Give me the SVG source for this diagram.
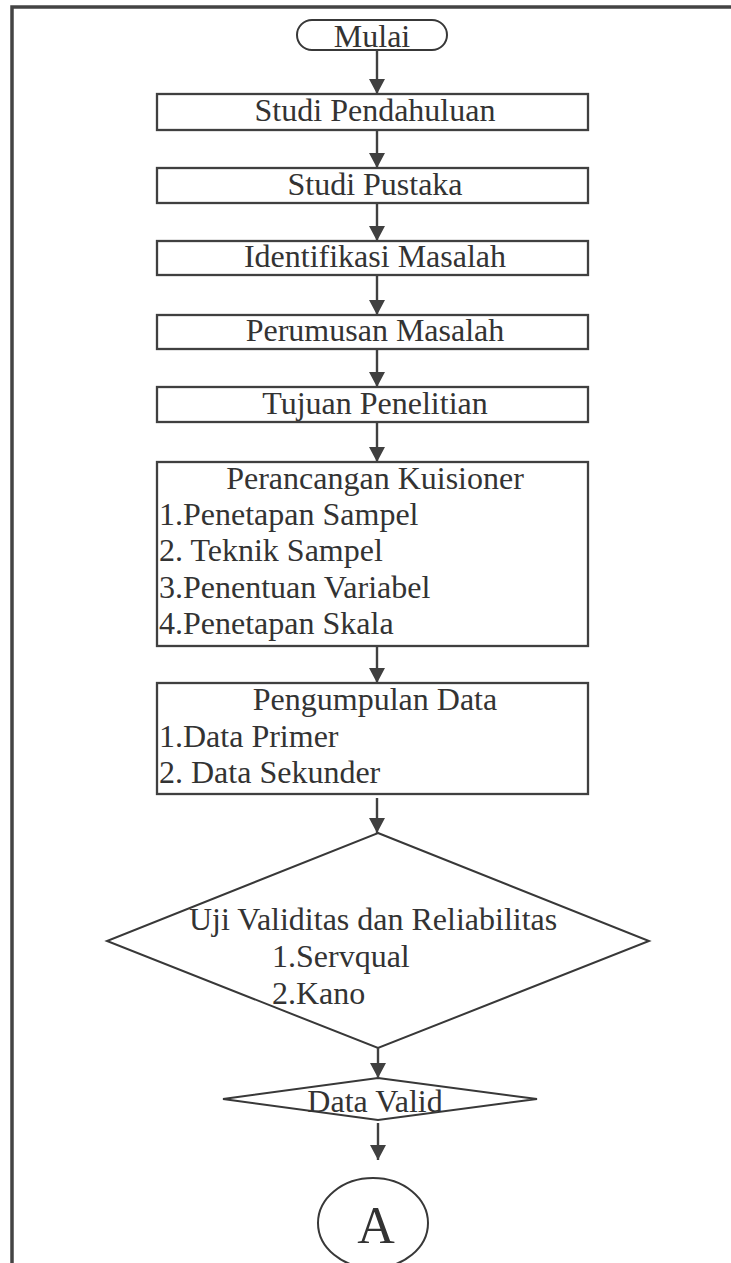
<svg xmlns="http://www.w3.org/2000/svg" width="731" height="1263" viewBox="0 0 731 1263">
<defs>
<style>
.t{font-family:"Liberation Serif","Times New Roman",serif;font-size:32px;fill:#333}
.c{text-anchor:middle}
.box{fill:none;stroke:#404040;stroke-width:2.3}
.sh{fill:none;stroke:#383838;stroke-width:2}
.ln{stroke:#404040;stroke-width:2.4;fill:none}
</style>
<marker id="ah" markerUnits="userSpaceOnUse" viewBox="0 0 15 16" refX="15" refY="8" markerWidth="15" markerHeight="16" orient="auto">
<path d="M0,0 L15,8 L0,16 z" fill="#404040"/>
</marker>
</defs>
<rect width="731" height="1263" fill="#fff"/>
<rect x="12" y="7" width="760" height="1320" fill="none" stroke="#444" stroke-width="3.5"/>
<g id="mulai"><rect class="sh" x="297" y="20" width="150" height="30" rx="15"/><text class="t c" x="372" y="47">Mulai</text></g>
<g id="studi-pendahuluan"><rect class="box" x="157" y="94" width="431" height="36"/><text class="t c" x="375" y="121">Studi Pendahuluan</text></g>
<g id="studi-pustaka"><rect class="box" x="157" y="168" width="431" height="35"/><text class="t c" x="375" y="195">Studi Pustaka</text></g>
<g id="identifikasi"><rect class="box" x="157" y="241" width="431" height="34"/><text class="t c" x="375" y="267">Identifikasi Masalah</text></g>
<g id="perumusan"><rect class="box" x="157" y="315" width="431" height="34"/><text class="t c" x="375" y="341">Perumusan Masalah</text></g>
<g id="tujuan"><rect class="box" x="157" y="387" width="431" height="35"/><text class="t c" x="375" y="414">Tujuan Penelitian</text></g>
<g id="perancangan"><rect class="box" x="157" y="462" width="431" height="184"/>
<text class="t c" x="375" y="489">Perancangan Kuisioner</text>
<text class="t" x="159" y="525">1.Penetapan Sampel</text>
<text class="t" x="159" y="561">2. Teknik Sampel</text>
<text class="t" x="159" y="598">3.Penentuan Variabel</text>
<text class="t" x="159" y="634">4.Penetapan Skala</text></g>
<g id="pengumpulan"><rect class="box" x="157" y="683" width="431" height="111"/>
<text class="t c" x="375" y="710">Pengumpulan Data</text>
<text class="t" x="159" y="747">1.Data Primer</text>
<text class="t" x="159" y="783">2. Data Sekunder</text></g>
<g id="uji"><polygon class="sh" points="378,833 649,941 378,1048 107,941"/>
<text class="t" x="189" y="930">Uji Validitas dan Reliabilitas</text>
<text class="t" x="272" y="967">1.Servqual</text>
<text class="t" x="272" y="1004">2.Kano</text></g>
<g id="data-valid"><polygon class="sh" points="378,1078 537,1099 378,1120 223,1099"/>
<text class="t c" x="375" y="1112">Data Valid</text></g>
<g id="konektor-a"><ellipse class="sh" cx="373" cy="1223" rx="55" ry="45"/>
<text class="t c" x="376" y="1243" style="font-size:52px">A</text></g>
<g id="connectors" class="ln">
<line x1="377" y1="50" x2="377" y2="94" marker-end="url(#ah)"/>
<line x1="377" y1="130" x2="377" y2="168" marker-end="url(#ah)"/>
<line x1="377" y1="203" x2="377" y2="241" marker-end="url(#ah)"/>
<line x1="377" y1="275" x2="377" y2="315" marker-end="url(#ah)"/>
<line x1="377" y1="349" x2="377" y2="387" marker-end="url(#ah)"/>
<line x1="377" y1="422" x2="377" y2="462" marker-end="url(#ah)"/>
<line x1="377" y1="646" x2="377" y2="683" marker-end="url(#ah)"/>
<line x1="377" y1="798" x2="377" y2="833" marker-end="url(#ah)"/>
<line x1="378" y1="1048" x2="378" y2="1078" marker-end="url(#ah)"/>
<line x1="378" y1="1123" x2="378" y2="1160" marker-end="url(#ah)"/>
</g>
</svg>
